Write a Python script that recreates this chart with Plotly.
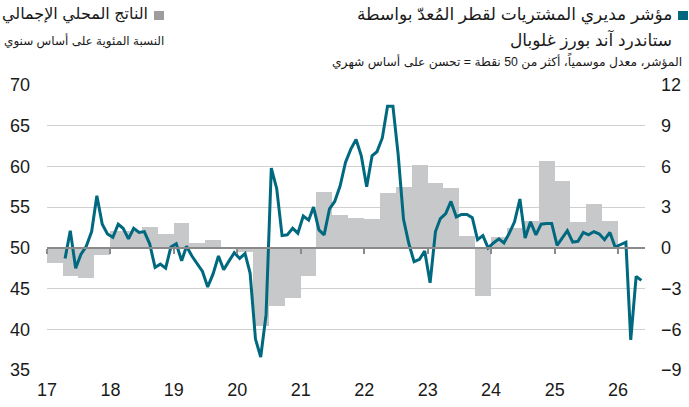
import pandas as pd
import plotly.graph_objects as go

# ---- data ----
gdp_start = "2017Q1"
gdp_end = "2025Q4"
gdp_values = [
    -1.08, -2.04, -2.23, -0.52,
    1.25, 1.25, 1.55, 1.03,
    1.82, 0.34, 0.56, 0.05,
    -0.27, -5.75, -4.30, -3.70,
    -2.06, 4.15, 2.43, 2.23,
    2.12, 4.03, 4.45, 6.08,
    4.80, 4.40, 0.85, -3.54,
    0.79, 1.48, 1.97, 6.41,
    4.94, 1.88, 3.20, 2.01,
]

pmi_start = "2017-04"
pmi_end = "2026-05"
pmi_values = [
    48.7, 52.1, 47.5, 49.2, 50.2, 52.0, 56.4, 52.9, 51.7,
    51.3, 52.9, 52.4, 51.1, 52.4, 51.9, 52.0, 50.5, 47.6, 48.0, 47.5, 50.1,
    50.5, 48.4, 50.2, 49.0, 48.1, 47.1, 45.2, 46.8, 49.0, 47.3, 48.4, 49.4,
    48.7, 49.3, 46.9, 38.8, 36.6, 41.8, 59.8, 57.3, 51.5, 51.6, 52.4, 51.8,
    53.9, 53.4, 55.0, 52.2, 51.6, 54.8, 55.7, 57.6, 60.5, 62.1, 63.3, 61.3,
    57.5, 61.3, 61.8, 63.5, 67.4, 67.4, 61.5, 53.5, 50.5, 48.3, 48.6, 49.6,
    45.7, 52.0, 53.6, 54.2, 55.7, 53.8, 54.1, 54.1, 53.7, 51.0, 51.5, 50.0,
    50.6, 51.1, 50.6, 51.8, 53.2, 56.0, 51.2, 53.2, 51.6, 52.9, 53.0, 53.0,
    50.3, 51.2, 52.1, 50.7, 50.8, 51.9, 51.6, 52.0, 51.7, 51.0, 51.9, 50.1,
    50.4, 50.7, 38.7, 46.5, 46.0,
]

year_ticks = list(range(2017, 2027))
year_labels = [str(y)[2:] for y in year_ticks]
pmi_ticks = [35, 40, 45, 50, 55, 60, 65, 70]
gdp_ticks = [-9, -6, -3, 0, 3, 6, 9, 12]

title_pmi_1 = "مؤشر مديري المشتريات لقطر المُعدّ بواسطة"
title_pmi_2 = "ستاندرد آند بورز غلوبال"
sub_pmi = "المؤشر، معدل موسمياً، أكثر من 50 نقطة = تحسن على أساس شهري"
title_gdp = "الناتج المحلي الإجمالي"
sub_gdp = "النسبة المئوية على أساس سنوي"

# ---- derived positions ----
q = pd.period_range(gdp_start, gdp_end, freq="Q")
q_start = q.start_time
q_width = [(p.end_time - p.start_time).total_seconds() * 1000 + 1 for p in q]
m = pd.period_range(pmi_start, pmi_end, freq="M")
m_mid = m.start_time + pd.Timedelta(days=14)
tick_dates = [pd.Timestamp(f"{y}-01-01") for y in year_ticks]

TEAL = "#00697f"
GREY = "#c7c8ca"
FONT = "Liberation Sans, Arial, DejaVu Sans, sans-serif"
x_range = ["2017-01-01", "2026-06-05"]

fig = go.Figure()
fig.add_trace(go.Bar(
    x=q_start, y=gdp_values, width=q_width, offset=0,
    marker=dict(color=GREY, line=dict(width=0)),
    xaxis="x", yaxis="y", hoverinfo="skip", showlegend=False,
))
fig.add_trace(go.Scatter(
    x=m_mid, y=pmi_values, mode="lines",
    line=dict(color=TEAL, width=3),
    xaxis="x2", yaxis="y2", showlegend=False,
))

L, R, T, B = 47, 44, 85, 37
W, H = 689, 407
pw, ph = W - L - R, H - T - B

def px(x):
    return (x - L) / pw

def py(y):
    return (H - B - y) / ph

TICKSIZE = 18

fig.update_layout(
    width=W, height=H,
    margin=dict(l=L, r=R, t=T, b=B, pad=0, autoexpand=False),
    paper_bgcolor="white", plot_bgcolor="white",
    font=dict(family=FONT, color="#1a1a1a", size=16),
    bargap=0,
    xaxis=dict(
        type="date", range=x_range, tickvals=tick_dates, ticktext=year_labels,
        showgrid=False, zeroline=False, showline=False, ticks="",
        tickfont=dict(size=TICKSIZE), ticklabelstandoff=7, automargin=False,
    ),
    xaxis2=dict(
        type="date", range=x_range, overlaying="x", anchor="free",
        position=(50 - 35) / (70 - 35), side="bottom",
        tickvals=tick_dates, showticklabels=False,
        ticks="outside", ticklen=5, tickwidth=1.5, tickcolor="#8a8a8a",
        showline=True, linecolor="#8a8a8a", linewidth=1.5,
        showgrid=False, zeroline=False, automargin=False,
    ),
    yaxis=dict(
        side="right", range=[-9, 12], tickvals=gdp_ticks,
        showgrid=True, gridcolor="#d0d0d0", gridwidth=1, zeroline=False,
        showline=False, ticks="", tickfont=dict(size=TICKSIZE), ticklabelstandoff=15,
        automargin=False,
    ),
    yaxis2=dict(
        side="left", overlaying="y", range=[35, 70], tickvals=pmi_ticks,
        showgrid=False, zeroline=False, showline=False, ticks="",
        tickfont=dict(size=TICKSIZE), ticklabelstandoff=16, automargin=False,
    ),
    annotations=[
        dict(text=title_pmi_1, x=px(674), y=py(15), xref="paper", yref="paper",
             xanchor="right", yanchor="middle", showarrow=False, font=dict(size=17)),
        dict(text=title_pmi_2, x=px(674), y=py(40), xref="paper", yref="paper",
             xanchor="right", yanchor="middle", showarrow=False, font=dict(size=17)),
        dict(text=sub_pmi, x=px(684), y=py(61), xref="paper", yref="paper",
             xanchor="right", yanchor="middle", showarrow=False, font=dict(size=12.3)),
        dict(text=title_gdp, x=px(150), y=py(15), xref="paper", yref="paper",
             xanchor="right", yanchor="middle", showarrow=False, font=dict(size=16)),
        dict(text=sub_gdp, x=px(166), y=py(41), xref="paper", yref="paper",
             xanchor="right", yanchor="middle", showarrow=False, font=dict(size=12)),
    ],
    shapes=[
        dict(type="rect", xref="paper", yref="paper", x0=px(678), x1=px(688),
             y0=py(20), y1=py(11), fillcolor=TEAL, line=dict(width=0)),
        dict(type="rect", xref="paper", yref="paper", x0=px(154), x1=px(164),
             y0=py(20), y1=py(11), fillcolor="#9d9d9f", line=dict(width=0)),
    ],
)

fig.write_html("out.html")
